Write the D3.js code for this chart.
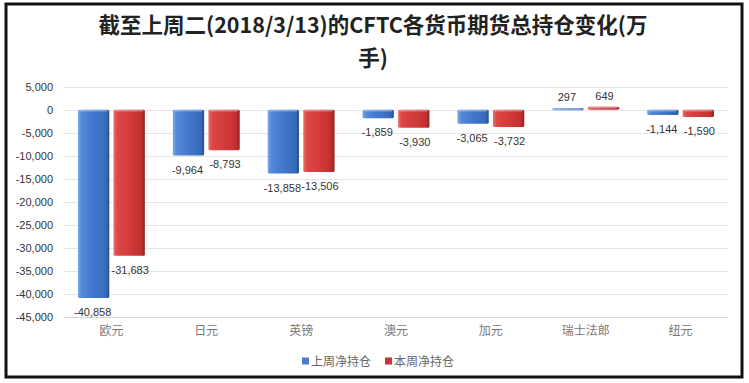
<!DOCTYPE html>
<html><head><meta charset="utf-8">
<script src="https://cdn.jsdelivr.net/npm/d3@7"></script>
<style>
html,body{margin:0;padding:0;background:#fff;}
svg{display:block;}
</style></head>
<body>
<svg id="chart" width="749" height="383"></svg>
<script>
const titleLines = ["截至上周二(2018/3/13)的CFTC各货币期货总持仓变化(万", "手)"];
const categories = ["欧元", "日元", "英镑", "澳元", "加元", "瑞士法郎", "纽元"];
const seriesNames = ["上周净持仓", "本周净持仓"];
const lastWeek = [-40858, -9964, -13858, -1859, -3065, 297, -1144];
const thisWeek = [-31683, -8793, -13506, -3930, -3732, 649, -1590];
const yTicks = [5000, 0, -5000, -10000, -15000, -20000, -25000, -30000, -35000, -40000, -45000];

const loc = d3.formatLocale({decimal: ".", thousands: ",", grouping: [3], currency: ["", ""], minus: "-"});
const fmt = loc.format(",");

const svg = d3.select("#chart");
const plot = {left: 64, right: 728, top: 86.7, bottom: 317};

const defs = svg.append("defs");
function grad(id, stops) {
  const g = defs.append("linearGradient").attr("id", id).attr("x1", "0").attr("x2", "1").attr("y1", "0").attr("y2", "0");
  stops.forEach(s => g.append("stop").attr("offset", s[0]).attr("stop-color", s[1]));
}
grad("gBlue", [[0, "#78a8e6"], [0.12, "#5289d8"], [0.5, "#4178cc"], [0.88, "#386bbd"], [1, "#274f95"]]);
grad("gRed", [[0, "#ea6e6e"], [0.12, "#de4747"], [0.5, "#d43b3b"], [0.88, "#c33030"], [1, "#8f2222"]]);

const x0 = d3.scaleBand().domain(categories).range([plot.left, plot.right]);
const x1 = d3.scaleBand().domain(seriesNames).range([14, x0.bandwidth() - 14]).paddingInner(0.12);
const y = d3.scaleLinear().domain([-45000, 5000]).range([plot.bottom, plot.top]);

svg.append("g").selectAll("line").data(yTicks).join("line")
  .attr("x1", plot.left).attr("x2", plot.right)
  .attr("y1", d => Math.round(y(d)) + 0.5).attr("y2", d => Math.round(y(d)) + 0.5)
  .attr("stroke", d => d === -45000 ? "#d4d4d4" : "#e6e6e6").attr("stroke-width", 1);

const yAxis = d3.axisLeft(y).tickValues(yTicks).tickFormat(fmt).tickSize(0).tickPadding(0);
const ya = svg.append("g").attr("transform", "translate(53,0)").call(yAxis);
ya.select(".domain").remove();
ya.selectAll("text").attr("font-family", "Liberation Sans, Arial, sans-serif").attr("font-size", 11).attr("fill", "#333");

const xAxis = d3.axisBottom(x0).tickSize(0).tickPadding(0);
const xa = svg.append("g").attr("transform", "translate(0,326)").call(xAxis);
xa.select(".domain").remove();
xa.selectAll("text").attr("font-family", "Noto Sans CJK SC, sans-serif").attr("font-size", 12).attr("fill", "#777");

const series = [
  {name: seriesNames[0], values: lastWeek, fill: "url(#gBlue)", sw: "#4a7cc9", dx: -1},
  {name: seriesNames[1], values: thisWeek, fill: "url(#gRed)", sw: "#c83333", dx: 1}
];

series.forEach(s => {
  const g = svg.append("g");
  const data = categories.map((c, i) => ({c, v: s.values[i]}));
  g.selectAll("rect").data(data).join("rect")
    .attr("x", d => x0(d.c) + x1(s.name))
    .attr("width", x1.bandwidth())
    .attr("y", d => Math.min(y(d.v), y(0)))
    .attr("height", d => Math.max(2, Math.abs(y(d.v) - y(0))))
    .attr("rx", 1.5)
    .attr("fill", s.fill);
  g.selectAll("line.hl").data(data).join("line").attr("class", "hl")
    .attr("x1", d => x0(d.c) + x1(s.name) + 1.5)
    .attr("x2", d => x0(d.c) + x1(s.name) + x1.bandwidth() - 1.5)
    .attr("y1", d => Math.min(y(d.v), y(0)) + 1)
    .attr("y2", d => Math.min(y(d.v), y(0)) + 1)
    .attr("stroke", "rgba(255,255,255,0.35)").attr("stroke-width", 1.5);
  g.selectAll("text").data(data).join("text")
    .attr("x", d => x0(d.c) + x1(s.name) + x1.bandwidth() / 2 + s.dx)
    .attr("y", d => d.v < 0 ? y(d.v) + 18 : y(d.v) - 7)
    .attr("text-anchor", "middle")
    .attr("font-family", "Liberation Sans, Arial, sans-serif")
    .attr("font-size", 11).attr("fill", "#333")
    .text(d => fmt(d.v));
});

svg.append("g").selectAll("text").data(titleLines).join("text")
  .attr("x", 373).attr("y", (d, i) => 33 + i * 33)
  .attr("text-anchor", "middle")
  .attr("font-family", "Noto Sans CJK SC, sans-serif")
  .attr("font-weight", "bold").attr("font-size", 21.5).attr("fill", "#222")
  .text(d => d);

const lg = svg.append("g").attr("transform", "translate(302,361)");
const legendX = [0, 83];
series.forEach((s, i) => {
  lg.append("rect").attr("x", legendX[i]).attr("y", -3.5).attr("width", 7).attr("height", 7).attr("fill", s.sw);
  lg.append("text").attr("x", legendX[i] + 9).attr("y", 4.5)
    .attr("font-family", "Noto Sans CJK SC, sans-serif").attr("font-size", 12).attr("fill", "#666")
    .text(s.name);
});

svg.append("rect").attr("x", 6).attr("y", 4).attr("width", 736).attr("height", 373)
  .attr("fill", "none").attr("stroke", "#111").attr("stroke-width", 3);
</script>
</body></html>
